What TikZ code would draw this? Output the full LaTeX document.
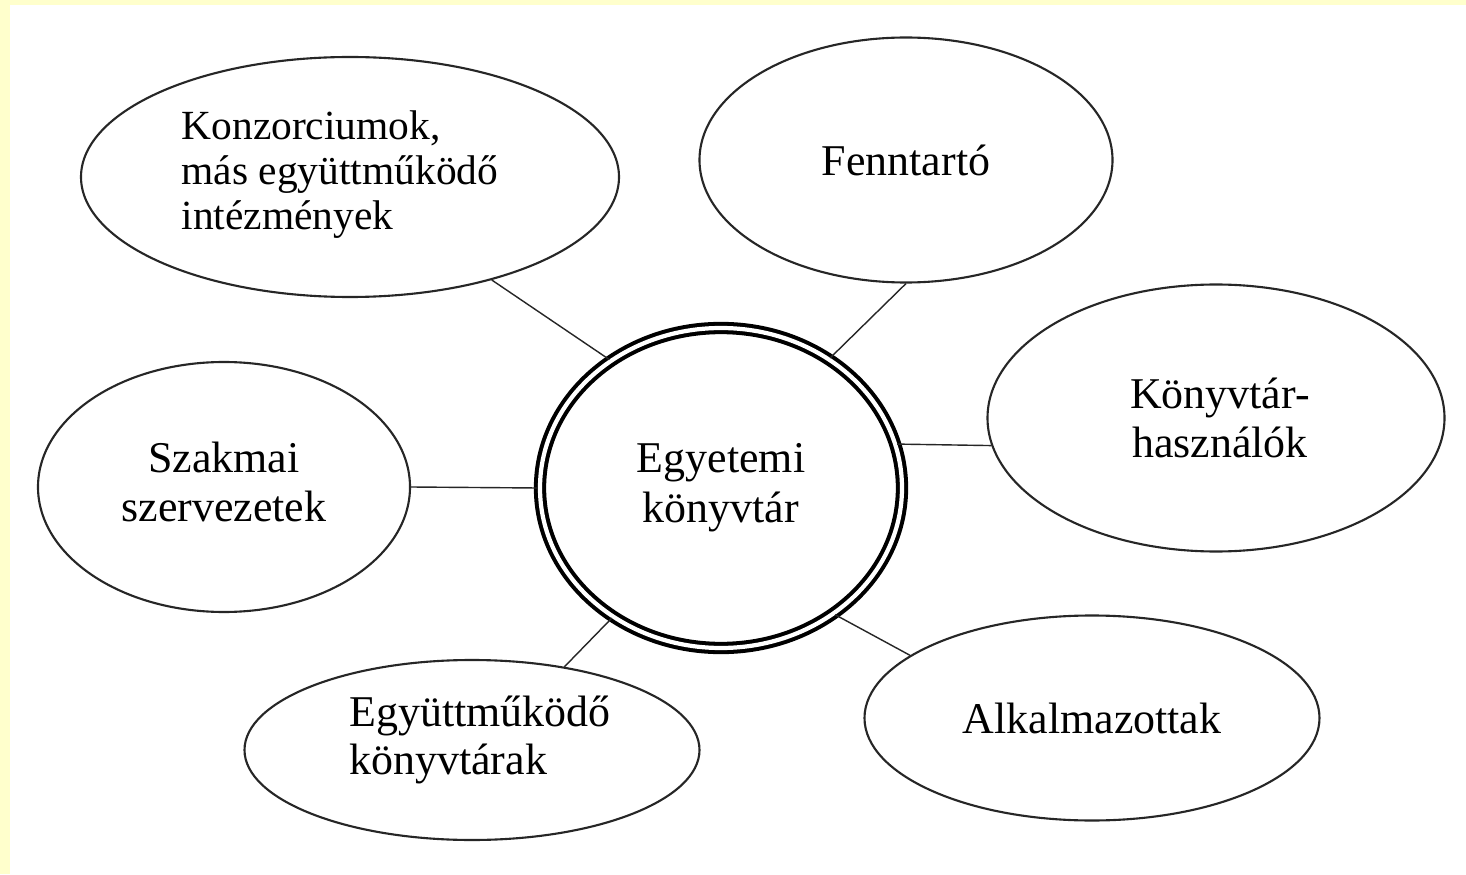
\documentclass[tikz,border=0pt]{standalone}
\usepackage{fontspec}
\setmainfont{Liberation Serif}
\usetikzlibrary{shapes.geometric}
\definecolor{hatter}{HTML}{FFFFCC}

\begin{document}
\begin{tikzpicture}[
        partner/.style={ellipse,draw=black!85,line width=0.6pt,inner sep=0pt},
        felirat/.style={inner sep=0pt,font=\fontsize{12.5}{13.8}\selectfont},
        kozpont/.style={ellipse,draw=black,line width=1.15pt,double,double distance=1.2pt,
            inner sep=0pt,minimum width=3.62cm,minimum height=3.2cm,align=center,
            font=\fontsize{12.5}{14.2}\selectfont},
        kapcsolat/.style={draw=black!85,line width=0.4pt}]
    % background and page margins
    \fill[hatter] (0,0) rectangle (14.66,8.74);
    \fill[white] (0.10,0) rectangle (14.66,8.69);
    \useasboundingbox (0,0) rectangle (14.66,8.74);
    % central node
    \node[kozpont] (konyvtar) at (7.21,3.86) {Egyetemi\\könyvtár};
    % partners
    \node[partner,minimum width=5.38cm,minimum height=2.40cm] (konz) at (3.50,6.97) {};
    \node[partner,minimum width=4.13cm,minimum height=2.45cm] (fenn) at (9.06,7.14) {};
    \node[partner,minimum width=4.57cm,minimum height=2.67cm] (hasz) at (12.16,4.56) {};
    \node[partner,minimum width=3.72cm,minimum height=2.50cm] (szak) at (2.24,3.87) {};
    \node[partner,minimum width=4.55cm,minimum height=1.80cm] (egyutt) at (4.72,1.24) {};
    \node[partner,minimum width=4.55cm,minimum height=2.05cm] (alk) at (10.92,1.56) {};
    % texts
    \node[felirat,align=left,font=\fontsize{11.8}{12.8}\selectfont] (konzt)
        at ([shift={(-0.10,0.02)}]konz) {Konzorciumok,\\más együttműködő\\intézmények};
    \node[felirat] (fennt) at (fenn) {Fenntartó};
    \node[felirat,align=center] (haszt) at ([shift={(0.04,0)}]hasz) {Könyvtár-\\használók};
    \node[felirat,align=center] (szakt) at ([shift={(0,0.05)}]szak) {Szakmai\\szervezetek};
    \node[felirat,align=left] (egyuttt) at ([shift={(0.08,0.10)}]egyutt) {Együttműködő\\könyvtárak};
    \node[felirat] (alkt) at (alk) {Alkalmazottak};
    % connectors
    \draw[kapcsolat] (konz.-36) -- (konyvtar.131);
    \draw[kapcsolat] (fenn.south) -- (konyvtar.50);
    \draw[kapcsolat] (konyvtar.14) -- (hasz.187);
    \draw[kapcsolat] (szak.east) -- (konyvtar.west);
    \draw[kapcsolat] (egyutt.42) -- (konyvtar.230);
    \draw[kapcsolat] (alk.161) -- (konyvtar.-48);
\end{tikzpicture}
\end{document}
